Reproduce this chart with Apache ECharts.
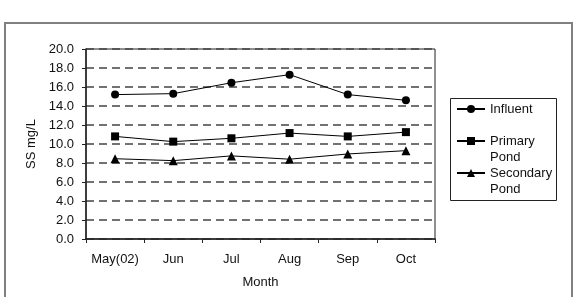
<!DOCTYPE html>
<html><head><meta charset="utf-8">
<script src="https://cdn.jsdelivr.net/npm/echarts@6/dist/echarts.min.js"></script>
<style>html,body{margin:0;padding:0;background:#fff}#c{width:577px;height:297px}</style>
</head><body><div id="c"></div>
<script>
const months = ['May(02)', 'Jun', 'Jul', 'Aug', 'Sep', 'Oct'];
const influent = [15.2, 15.3, 16.45, 17.3, 15.2, 14.6];
const primaryPond = [10.8, 10.25, 10.6, 11.15, 10.8, 11.25];
const secondaryPond = [8.45, 8.25, 8.75, 8.4, 8.95, 9.3];
const seriesNames = ['Influent', 'Primary Pond', 'Secondary Pond'];
const legendLabels = {'Influent': '\nInfluent\n ', 'Primary Pond': '\nPrimary\nPond', 'Secondary Pond': '\nSecondary\nPond'};

const chart = echarts.init(document.getElementById('c'), null, {renderer: 'canvas'});
const font = 'Liberation Sans, Arial, sans-serif';
function line(name, data, symbol, size) {
  return {
    name, type: 'line', data, symbol, symbolSize: size,
    lineStyle: {color: '#000', width: 1},
    itemStyle: {color: '#000'},
    emphasis: {disabled: true}, animation: false
  };
}
chart.setOption({
  animation: false,
  textStyle: {fontFamily: font},
  graphic: [{
    type: 'rect', shape: {x: 5, y: 23, width: 567, height: 300},
    style: {fill: 'none', stroke: '#808080', lineWidth: 2}, silent: true
  }, {
    type: 'rect', shape: {x: 450.5, y: 98.5, width: 106, height: 102},
    style: {fill: 'none', stroke: '#222', lineWidth: 1}, silent: true
  }],
  grid: {left: 86, right: 142, top: 49, bottom: 58, show: true, borderColor: '#222', borderWidth: 1},
  legend: {
    orient: 'vertical', left: 456, top: 85,
    data: seriesNames,
    itemWidth: 28, itemHeight: 10, itemGap: -16,
    padding: 0,
    formatter: n => legendLabels[n],
    textStyle: {fontFamily: font, fontSize: 13, color: '#111', lineHeight: 16},
    selectedMode: false
  },
  xAxis: {
    type: 'category', data: months, boundaryGap: true,
    name: 'Month', nameLocation: 'middle', nameGap: 37,
    nameTextStyle: {fontFamily: font, fontSize: 13, color: '#111'},
    axisLine: {lineStyle: {color: '#222', width: 1.5}},
    axisTick: {show: true, length: 4, interval: 0, lineStyle: {color: '#222'}},
    axisLabel: {margin: 14, interval: 0, hideOverlap: false, fontFamily: font, fontSize: 13, color: '#111'}
  },
  yAxis: {
    type: 'value', min: 0, max: 20, interval: 2,
    name: 'SS mg/L', nameLocation: 'middle', nameGap: 46,
    nameTextStyle: {fontFamily: font, fontSize: 13, color: '#111'},
    axisLine: {show: true, lineStyle: {color: '#222', width: 1.5}},
    axisTick: {show: true, length: 4, lineStyle: {color: '#222'}},
    axisLabel: {margin: 12, fontFamily: font, fontSize: 13, color: '#111', formatter: v => v.toFixed(1)},
    splitLine: {show: true, lineStyle: {color: '#444', width: 1.5, type: [8, 5]}}
  },
  series: [
    line('Influent', influent, 'circle', 8),
    line('Primary Pond', primaryPond, 'rect', 8),
    line('Secondary Pond', secondaryPond, 'triangle', 9)
  ]
});
</script></body></html>
